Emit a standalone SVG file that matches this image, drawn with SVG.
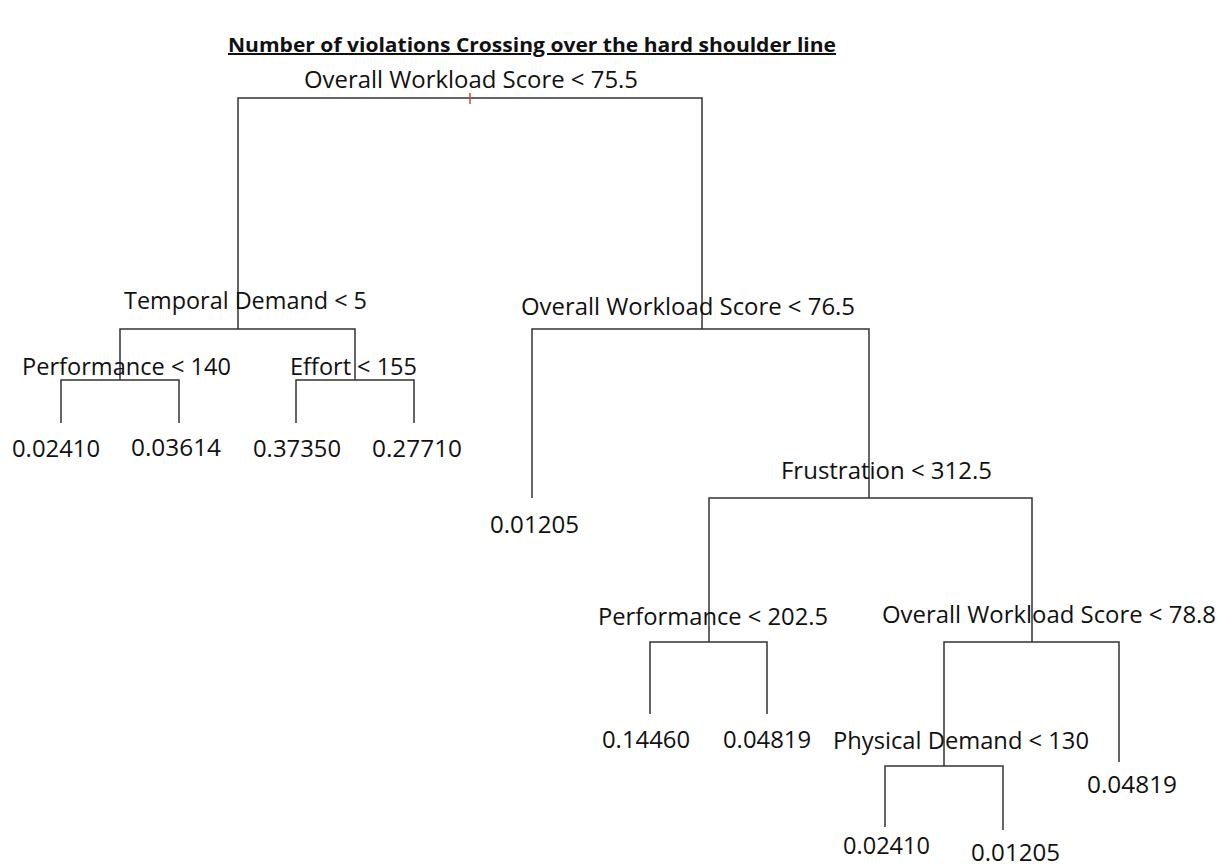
<svg xmlns="http://www.w3.org/2000/svg" width="1227" height="868" viewBox="0 0 1227 868">
<style>
text{font-family:"Open Sans","Noto Sans","Liberation Sans",sans-serif;font-size:24px;fill:#111}
.t{font-weight:bold;font-size:20px;text-decoration:underline}
.c{stroke:#333;stroke-width:1.5;fill:none}
</style>
<rect width="1227" height="868" fill="#fff"/>
<text class="t" x="228" y="52" textLength="608" lengthAdjust="spacingAndGlyphs">Number of violations Crossing over the hard shoulder line</text>
<g id="connectors" class="c">
<path d="M238,329 V98 H702 V329"/>
<path d="M470,93 V104" stroke="#c44"/>
<path d="M120,380 V329 H355 V380"/>
<path d="M61,423 V380 H179 V423"/>
<path d="M296,423 V380 H414 V423"/>
<path d="M532,498 V329 H869 V498"/>
<path d="M709,642 V498 H1032 V642"/>
<path d="M650,714 V642 H767 V714"/>
<path d="M944,766 V642 H1119 V762"/>
<path d="M885,827 V766 H1003 V830"/>
</g>
<g id="n-root"><text x="304" y="88" textLength="334" lengthAdjust="spacingAndGlyphs">Overall Workload Score &lt; 75.5</text></g>
<g id="n-temporal"><text x="124" y="309" textLength="243" lengthAdjust="spacingAndGlyphs">Temporal Demand &lt; 5</text></g>
<g id="n-perf140"><text x="22" y="375" textLength="209" lengthAdjust="spacingAndGlyphs">Performance &lt; 140</text></g>
<g id="n-effort"><text x="290" y="375" textLength="127" lengthAdjust="spacingAndGlyphs">Effort &lt; 155</text></g>
<g id="l1"><text x="12" y="457" textLength="88" lengthAdjust="spacingAndGlyphs">0.02410</text></g>
<g id="l2"><text x="131" y="456" textLength="90" lengthAdjust="spacingAndGlyphs">0.03614</text></g>
<g id="l3"><text x="253" y="457" textLength="88" lengthAdjust="spacingAndGlyphs">0.37350</text></g>
<g id="l4"><text x="372" y="457" textLength="90" lengthAdjust="spacingAndGlyphs">0.27710</text></g>
<g id="n-ows765"><text x="521" y="315" textLength="334" lengthAdjust="spacingAndGlyphs">Overall Workload Score &lt; 76.5</text></g>
<g id="l5"><text x="490" y="533" textLength="89" lengthAdjust="spacingAndGlyphs">0.01205</text></g>
<g id="n-frus"><text x="781" y="479" textLength="211" lengthAdjust="spacingAndGlyphs">Frustration &lt; 312.5</text></g>
<g id="n-perf202"><text x="598" y="625" textLength="230" lengthAdjust="spacingAndGlyphs">Performance &lt; 202.5</text></g>
<g id="n-ows788"><text x="882" y="623" textLength="334" lengthAdjust="spacingAndGlyphs">Overall Workload Score &lt; 78.8</text></g>
<g id="l6"><text x="602" y="748" textLength="88" lengthAdjust="spacingAndGlyphs">0.14460</text></g>
<g id="l7"><text x="723" y="748" textLength="88" lengthAdjust="spacingAndGlyphs">0.04819</text></g>
<g id="n-phys"><text x="833" y="749" textLength="256" lengthAdjust="spacingAndGlyphs">Physical Demand &lt; 130</text></g>
<g id="l8"><text x="1087" y="793" textLength="90" lengthAdjust="spacingAndGlyphs">0.04819</text></g>
<g id="l9"><text x="843" y="854" textLength="87" lengthAdjust="spacingAndGlyphs">0.02410</text></g>
<g id="l10"><text x="971" y="861" textLength="89" lengthAdjust="spacingAndGlyphs">0.01205</text></g>
</svg>
